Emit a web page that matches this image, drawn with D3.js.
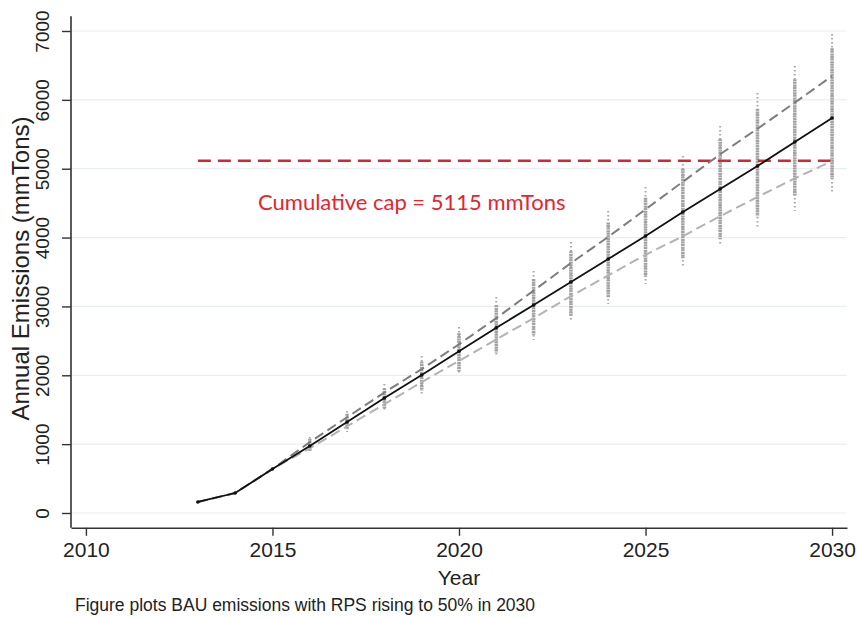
<!DOCTYPE html>
<html>
<head>
<meta charset="utf-8">
<script src="https://cdn.jsdelivr.net/npm/d3@7"></script>
<style>
  body { margin: 0; background: #fff; }
  svg { display: block; }
</style>
</head>
<body>
<div id="chart"></div>
<script>
// years and series
const years = [2013, 2014, 2015, 2016, 2017, 2018, 2019, 2020, 2021, 2022, 2023, 2024, 2025, 2026, 2027, 2028, 2029, 2030];
const median = [160, 290, 640, 973, 1321, 1670, 2004, 2350, 2690, 3020, 3355, 3689, 4023, 4371, 4705, 5039, 5388, 5736];
const upper = [160, 290, 640, 1030, 1390, 1750, 2090, 2450, 2830, 3230, 3630, 4010, 4410, 4810, 5210, 5580, 5960, 6346];
const lower = [160, 290, 640, 940, 1260, 1580, 1900, 2210, 2520, 2830, 3150, 3450, 3750, 4020, 4310, 4590, 4860, 5110];

// simulation spread per year (2016..2030): extremes and dense core
const stripYears = [2016, 2017, 2018, 2019, 2020, 2021, 2022, 2023, 2024, 2025, 2026, 2027, 2028, 2029, 2030];
const stripMax = [1104, 1481, 1873, 2280, 2700, 3137, 3514, 3935, 4386, 4734, 5185, 5620, 6099, 6491, 6956];
const stripCoreHi = [1080, 1440, 1810, 2200, 2610, 3020, 3400, 3800, 4220, 4580, 5000, 5430, 5870, 6300, 6750];
const stripCoreLo = [905, 1210, 1510, 1780, 2060, 2330, 2590, 2860, 3130, 3430, 3700, 3980, 4310, 4600, 4850];
const stripMin = [886, 1176, 1467, 1728, 2004, 2265, 2512, 2774, 3035, 3326, 3587, 3877, 4153, 4386, 4662];

const capValue = 5115;
const capYears = [2013, 2030];
const capLabel = 'Cumulative cap = 5115 mmTons';

const xTicks = [2010, 2015, 2020, 2025, 2030];
const yTicks = [0, 1000, 2000, 3000, 4000, 5000, 6000, 7000];

const width = 857;
const height = 618;

const svg = d3.select('#chart').append('svg')
  .attr('width', width)
  .attr('height', height);

const x = d3.scaleLinear().domain([2009.6, 2030.4]).range([71, 847]);
const y = d3.scaleLinear().domain([0, 7000]).range([513, 31]);
const yBottom = -215;
const yTop = 7215;

// gridlines
svg.append('g')
  .selectAll('line')
  .data(yTicks)
  .join('line')
  .attr('x1', x(2009.6))
  .attr('x2', x(2030.4))
  .attr('y1', d => y(d))
  .attr('y2', d => y(d))
  .attr('stroke', '#e9eef2')
  .attr('stroke-width', 1.2);

// spread strips
const strips = stripYears.map((yr, i) => ({
  year: yr, max: stripMax[i], hi: stripCoreHi[i], lo: stripCoreLo[i], min: stripMin[i]
}));

const gStrip = svg.append('g');
gStrip.selectAll('line.tail')
  .data(strips)
  .join('line')
  .attr('class', 'tail')
  .attr('x1', d => x(d.year))
  .attr('x2', d => x(d.year))
  .attr('y1', d => y(d.max))
  .attr('y2', d => y(d.min))
  .attr('stroke', '#a8a8a8')
  .attr('stroke-width', 2)
  .attr('stroke-dasharray', '1.5,2.5');

gStrip.selectAll('line.core')
  .data(strips)
  .join('line')
  .attr('class', 'core')
  .attr('x1', d => x(d.year))
  .attr('x2', d => x(d.year))
  .attr('y1', d => y(d.hi))
  .attr('y2', d => y(d.lo))
  .attr('stroke', '#a3a3a3')
  .attr('stroke-width', 3.6)
  .attr('stroke-dasharray', '2,0.6');

// cap line
svg.append('line')
  .attr('x1', x(capYears[0]))
  .attr('x2', x(capYears[1]))
  .attr('y1', y(capValue))
  .attr('y2', y(capValue))
  .attr('stroke', '#d7262d')
  .attr('stroke-width', 2.4)
  .attr('stroke-dasharray', '13,7');

svg.append('text')
  .attr('x', 258)
  .attr('y', 210)
  .style('font-family', 'Lato, "Open Sans", sans-serif')
  .style('font-size', '22px')
  .style('fill', '#e5252c')
  .text(capLabel);

// quantile and median lines
const pts = (vals) => years.map((yr, i) => [yr, vals[i]]);
const line = d3.line().x(d => x(d[0])).y(d => y(d[1]));

svg.append('path')
  .datum(pts(lower))
  .attr('fill', 'none')
  .attr('stroke', '#b3b3b3')
  .attr('stroke-width', 2)
  .attr('stroke-dasharray', '10,5')
  .attr('d', line);

svg.append('path')
  .datum(pts(upper))
  .attr('fill', 'none')
  .attr('stroke', '#7d7d7d')
  .attr('stroke-width', 2)
  .attr('stroke-dasharray', '10,5')
  .attr('d', line);

svg.append('path')
  .datum(pts(median))
  .attr('fill', 'none')
  .attr('stroke', '#111')
  .attr('stroke-width', 1.8)
  .attr('d', line);

svg.append('g')
  .selectAll('circle')
  .data(pts(median))
  .join('circle')
  .attr('cx', d => x(d[0]))
  .attr('cy', d => y(d[1]))
  .attr('r', 1.8)
  .attr('fill', '#111');

// axes
const font = '"Liberation Sans", Arial, Helvetica, sans-serif';

const xAxis = svg.append('g')
  .attr('transform', `translate(0,${y(yBottom)})`)
  .call(d3.axisBottom(x).tickValues(xTicks).tickFormat(d3.format('d')).tickSize(8).tickSizeOuter(0).tickPadding(6));
xAxis.select('.domain').attr('stroke', '#333').attr('stroke-width', 1.6);
xAxis.selectAll('.tick line').attr('stroke', '#333').attr('stroke-width', 1.4);
xAxis.selectAll('.tick text')
  .style('font-family', font)
  .style('font-size', '21px')
  .attr('fill', '#222');

const yAxis = svg.append('g')
  .attr('transform', `translate(${x(2009.6)},0)`)
  .call(d3.axisLeft(y).tickValues(yTicks).tickSize(9).tickSizeOuter(0).tickFormat(d3.format('d')));
yAxis.select('.domain').attr('d', `M0,${y(yBottom)}V${y(yTop)}`).attr('stroke', '#333').attr('stroke-width', 1.6);
yAxis.selectAll('.tick line').attr('stroke', '#333').attr('stroke-width', 1.4);
yAxis.selectAll('.tick text')
  .attr('x', 0)
  .attr('dy', 0)
  .attr('transform', 'translate(-29,0) rotate(-90)')
  .attr('text-anchor', 'middle')
  .attr('dominant-baseline', 'central')
  .style('font-family', font)
  .style('font-size', '19px')
  .attr('fill', '#222');

// titles
svg.append('text')
  .attr('x', x(2020))
  .attr('y', 585)
  .attr('text-anchor', 'middle')
  .style('font-family', font)
  .style('font-size', '21px')
  .style('fill', '#222')
  .text('Year');

svg.append('text')
  .attr('transform', `translate(29,${y(3550)}) rotate(-90)`)
  .attr('text-anchor', 'middle')
  .style('font-family', font)
  .style('font-size', '24px')
  .style('fill', '#222')
  .text('Annual Emissions (mmTons)');

svg.append('text')
  .attr('x', 75)
  .attr('y', 611)
  .style('font-family', font)
  .style('font-size', '17.5px')
  .style('fill', '#222')
  .text('Figure plots BAU emissions with RPS rising to 50% in 2030');
</script>
</body>
</html>
